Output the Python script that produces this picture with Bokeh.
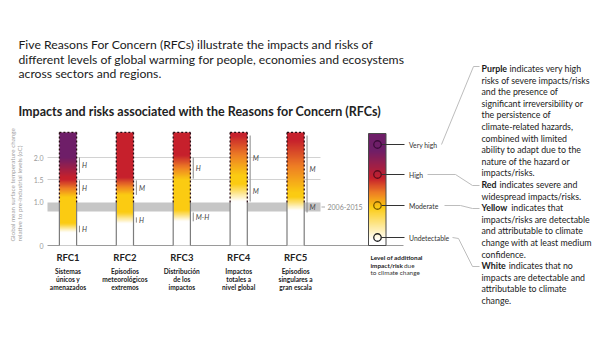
import numpy as np
from bokeh.plotting import figure
from bokeh.models import Range1d
from bokeh.core.properties import value
from bokeh.embed import file_html
from bokeh.resources import INLINE

# ---------------- data ----------------
rfc_codes = ["RFC1", "RFC2", "RFC3", "RFC4", "RFC5"]
rfc_names = [["Sistemas", "únicos y", "amenazados"],
             ["Episodios", "meteorológicos", "extremos"],
             ["Distribución", "de los", "impactos"],
             ["Impactos", "totales a", "nivel global"],
             ["Episodios", "singulares a", "gran escala"]]
bar_top = 2.57
white_to_yellow = [(0.30, 0.50), (0.50, 0.75), (0.55, 0.80), (1.00, 1.40), (0.80, 1.10)]
yellow_to_red = [(1.10, 1.50), (1.15, 1.55), (1.50, 2.05), (1.60, 2.50), (1.20, 2.40)]
red_to_purple = [(1.55, 2.00), None, None, None, None]
conf_bar = [0, 0, 0, 1, 1, 2, 2, 3, 3, 4, 4]
conf_lo = [1.65, 1.15, 0.30, 1.15, 0.52, 1.52, 0.55, 1.50, 1.00, 1.00, 0.75]
conf_hi = [2.00, 1.48, 0.45, 1.48, 0.64, 2.00, 0.75, 2.50, 1.50, 2.50, 1.00]
conf_lab = ["H", "H", "H", "M", "H", "H", "M-H", "M", "M", "M", "M"]
obs_lo, obs_hi = 0.77, 0.98
obs_label = "2006-2015"
y_ticks = [0, 1.0, 1.5, 2.0]
y_tick_labels = ["0", "1.0", "1.5", "2.0"]
grid_levels = [1.5, 2.0]
level_labels = ["Very high", "High", "Moderate", "Undetectable"]

title_lines = ["Five Reasons For Concern (RFCs) illustrate the impacts and risks of",
               "different levels of global warming for people, economies and ecosystems",
               "across sectors and regions."]
subtitle = "Impacts and risks associated with the Reasons for Concern (RFCs)"
axis_title = ["Global mean surface temperature change",
              "relative to pre-industrial levels (oC)"]
paragraphs = [
    ("Purple", ["indicates very high", "risks of severe impacts/risks", "and the presence of",
                "significant irreversibility or", "the persistence of", "climate-related hazards,",
                "combined with limited", "ability to adapt due to the", "nature of the hazard or",
                "impacts/risks."]),
    ("Red", ["indicates severe and", "widespread impacts/risks."]),
    ("Yellow", ["indicates that", "impacts/risks are detectable", "and attributable to climate",
                "change with at least medium", "confidence."]),
    ("White", ["indicates that no", "impacts are detectable and", "attributable to climate",
               "change."]),
]

# ---------------- helpers ----------------
FONT = value("Lato")
WHITE = (255, 255, 255); YELLOW = (251, 203, 18); ORANGE = (238, 126, 36)
RED = (198, 32, 44); PURPLE = (110, 30, 104)


def lerp(c1, c2, s):
    s = min(max(s, 0.0), 1.0)
    return tuple(int(round(a + (b - a) * s)) for a, b in zip(c1, c2))


def color_at(t, i):
    w0, w1 = white_to_yellow[i]
    y0, y1 = yellow_to_red[i]
    rp = red_to_purple[i]
    if t < w0:
        return WHITE
    if t < w1:
        return lerp(WHITE, YELLOW, (t - w0) / (w1 - w0))
    if t < y0:
        return YELLOW
    if t < y1:
        s = (t - y0) / (y1 - y0)
        return lerp(YELLOW, ORANGE, s * 2) if s < 0.5 else lerp(ORANGE, RED, (s - 0.5) * 2)
    if rp is None or t < rp[0]:
        return RED
    if t < rp[1]:
        return lerp(RED, PURPLE, (t - rp[0]) / (rp[1] - rp[0]))
    return PURPLE


def to_img(colors):
    n = len(colors)
    rgba = np.zeros((n, 1, 4), dtype=np.uint8)
    for k, c in enumerate(colors):
        rgba[k, 0, :3] = c
        rgba[k, 0, 3] = 255
    return rgba.view(dtype=np.uint32).reshape((n, 1))


# ---------------- figure ----------------
PX0, PXS = 67.5, 56.9        # pixel of RFC1 centre, pixels per category
PY0, PYS = 245.0, 44.0       # pixel of 0 degC, pixels per degC
W, H = 600, 338
p = figure(width=W, height=H, title=None,
           x_range=Range1d(1 - PX0 / PXS, 1 + (W - PX0) / PXS),
           y_range=Range1d(-(H - PY0) / PYS, PY0 / PYS),
           toolbar_location=None, output_backend="svg", min_border=0,
           x_axis_location=None, y_axis_location=None, outline_line_color=None)
p.grid.grid_line_color = None
p.extra_x_ranges = {"px": Range1d(0, W)}
p.extra_y_ranges = {"px": Range1d(H, 0)}
PX = dict(x_range_name="px", y_range_name="px")


def xd(px):
    return 1 + (px - PX0) / PXS


xs = np.arange(1, len(rfc_codes) + 1)
hw = 8.6 / PXS
left_edge, right_edge = xd(47), xd(320)

# observed band and grid
p.quad(left=[left_edge], right=[right_edge], bottom=[obs_lo], top=[obs_hi],
       fill_color="#c6c6c6", line_color=None)
p.segment(x0=[left_edge] * len(grid_levels), x1=[right_edge] * len(grid_levels),
          y0=grid_levels, y1=grid_levels, line_color="#d2d2d2", line_width=1)
p.segment(x0=[left_edge], x1=[xd(403)], y0=[0], y1=[0], line_color="#9a9a9a", line_width=1)
p.segment(x0=[xd(321)], x1=[xd(324.5)], y0=[(obs_lo + obs_hi) / 2], y1=[(obs_lo + obs_hi) / 2],
          line_color="#aaaaaa", line_width=1)
p.text(x=[xd(327)], y=[(obs_lo + obs_hi) / 2], text=[obs_label], text_font=FONT,
       text_font_size="7px", text_color="#8c8c8c", text_baseline="middle")

# y tick labels
p.text(x=[43] * len(y_ticks), y=y_ticks, text=y_tick_labels, x_range_name="px",
       text_font=FONT, text_font_size="7px", text_color="#9a9a9a",
       text_align="right", text_baseline="middle")
for k, line in enumerate(axis_title):
    p.text(x=[12 + 6.5 * k], y=[241], text=[line], angle=np.pi / 2, text_font=FONT,
           text_font_size="6.3px", text_color="#a0a0a0", text_align="left",
           text_baseline="middle", **PX)

# bars
N = 320
ts = np.linspace(0, bar_top, N)
for i, x in enumerate(xs):
    img = to_img([color_at(t, i) for t in ts])
    p.image_rgba(image=[img], x=x - hw, y=0, dw=2 * hw, dh=bar_top)
xl, xr = xs - hw, xs + hw
n = len(xs)
p.segment(x0=list(xl) + list(xr), x1=list(xl) + list(xr), y0=[0] * (2 * n), y1=[obs_hi] * (2 * n),
          line_color="#7c7c7c", line_width=1.2)
p.segment(x0=list(xl) + list(xr) + list(xl), x1=list(xl) + list(xr) + list(xr),
          y0=[obs_hi] * (2 * n) + [bar_top] * n, y1=[bar_top] * (3 * n),
          line_color="#2a0c14", line_width=1.3, line_dash="2 2")

# confidence brackets
cx = np.array([xs[b] for b in conf_bar], dtype=float)
p.segment(x0=cx + hw + 0.05, x1=cx + hw + 0.05, y0=conf_lo, y1=conf_hi,
          line_color="#8a8a8a", line_width=1)
p.text(x=cx + hw + 0.095, y=[(a + b) / 2 for a, b in zip(conf_lo, conf_hi)], text=conf_lab,
       text_font=FONT, text_font_style="italic", text_font_size="7px", text_color="#444444",
       text_baseline="middle")

# category labels
p.text(x=xs, y=[257] * n, text=rfc_codes, y_range_name="px",
       text_font=FONT, text_font_style="bold", text_font_size="9.5px", text_color="#222222",
       text_align="center", text_baseline="middle")
for j in range(3):
    p.text(x=xs, y=[270 + 8 * j] * n, text=[nm[j] for nm in rfc_names],
           y_range_name="px", text_font=FONT, text_font_style="bold", text_font_size="6.6px",
           text_color="#222222", text_align="center", text_baseline="middle")

# legend colour bar
leg_stops = [(0.0, WHITE), (0.045, WHITE), (0.34, YELLOW), (0.47, ORANGE), (0.60, RED),
             (0.85, PURPLE), (1.0, PURPLE)]


def leg_color(f):
    for (f0, c0), (f1, c1) in zip(leg_stops[:-1], leg_stops[1:]):
        if f <= f1:
            return lerp(c0, c1, (f - f0) / (f1 - f0) if f1 > f0 else 1)
    return leg_stops[-1][1]


leg_top = (PY0 - 133) / PYS
leg_img = to_img([leg_color(f) for f in np.linspace(0, 1, N)])
p.image_rgba(image=[leg_img], x=xd(368), y=0, dw=xd(385.5) - xd(368), dh=leg_top)
p.quad(left=[xd(368)], right=[xd(385.5)], bottom=[0], top=[leg_top], fill_color=None,
       line_color="#4a4a4a", line_width=1)
lev_y = [144, 174, 205, 237]
lev_ring = ["#3c0b3a", "#5e0d1c", "#7a5a00", "#222222"]
p.segment(x0=[381] * 4, x1=[404] * 4, y0=lev_y, y1=lev_y, line_color="#333333", line_width=1, **PX)
p.scatter(x=[377] * 4, y=lev_y, size=7.5, fill_alpha=0, line_color=lev_ring, line_width=1.3, **PX)
p.text(x=[408.5] * 4, y=lev_y, text=level_labels, text_font=FONT, text_font_size="6.8px",
       text_color="#333333", text_baseline="middle", **PX)
# connectors to explanations
conn = [([441, 473, 479], [144, 66, 66]),
        ([427, 455, 472, 479], [174, 174, 185, 185]),
        ([444, 460, 472, 479], [205, 205, 208, 208]),
        ([452, 458, 472, 479], [237, 238, 266, 266])]
p.multi_line(xs=[c[0] for c in conn], ys=[c[1] for c in conn], line_color="#bdbdbd",
             line_width=1, **PX)
# legend caption
p.text(x=[370, 370], y=[257, 264.5], text=["Level of additional", "impact/risk"], text_font=FONT,
       text_font_style="bold", text_font_size="6.4px", text_color="#222222",
       text_baseline="middle", **PX)
p.text(x=[403.5, 370], y=[264.5, 272], text=["due", "to climate change"], text_font=FONT,
       text_font_size="6.4px", text_color="#333333", text_baseline="middle", **PX)

# titles
p.text(x=[18] * 3, y=[44, 58.5, 73], text=title_lines, text_font=FONT, text_font_size="12.2px",
       text_color="#1a1a1a", text_baseline="middle", **PX)
p.text(x=[18], y=[111], text=[subtitle], text_font=FONT, text_font_style="bold",
       text_font_size="12.5px", text_color="#222222", text_baseline="middle", **PX)

# explanations
FS = 8.8
bold_w = {"Purple": 28.0, "Red": 18.0, "Yellow": 29.7, "White": 27.2}
ly = 68.0
for word, lines in paragraphs:
    p.text(x=[481], y=[ly], text=[word], text_font=FONT, text_font_style="bold",
           text_font_size=f"{FS}px", text_color="#1a1a1a", text_baseline="middle", **PX)
    ys = [ly + 11.6 * k for k in range(len(lines))]
    p.text(x=[481 + bold_w[word]] + [481] * (len(lines) - 1), y=ys, text=lines, text_font=FONT,
           text_font_size=f"{FS}px", text_color="#222222", text_baseline="middle", **PX)
    ly += 11.6 * len(lines)

open("out.html", "w").write(file_html(p, INLINE))
